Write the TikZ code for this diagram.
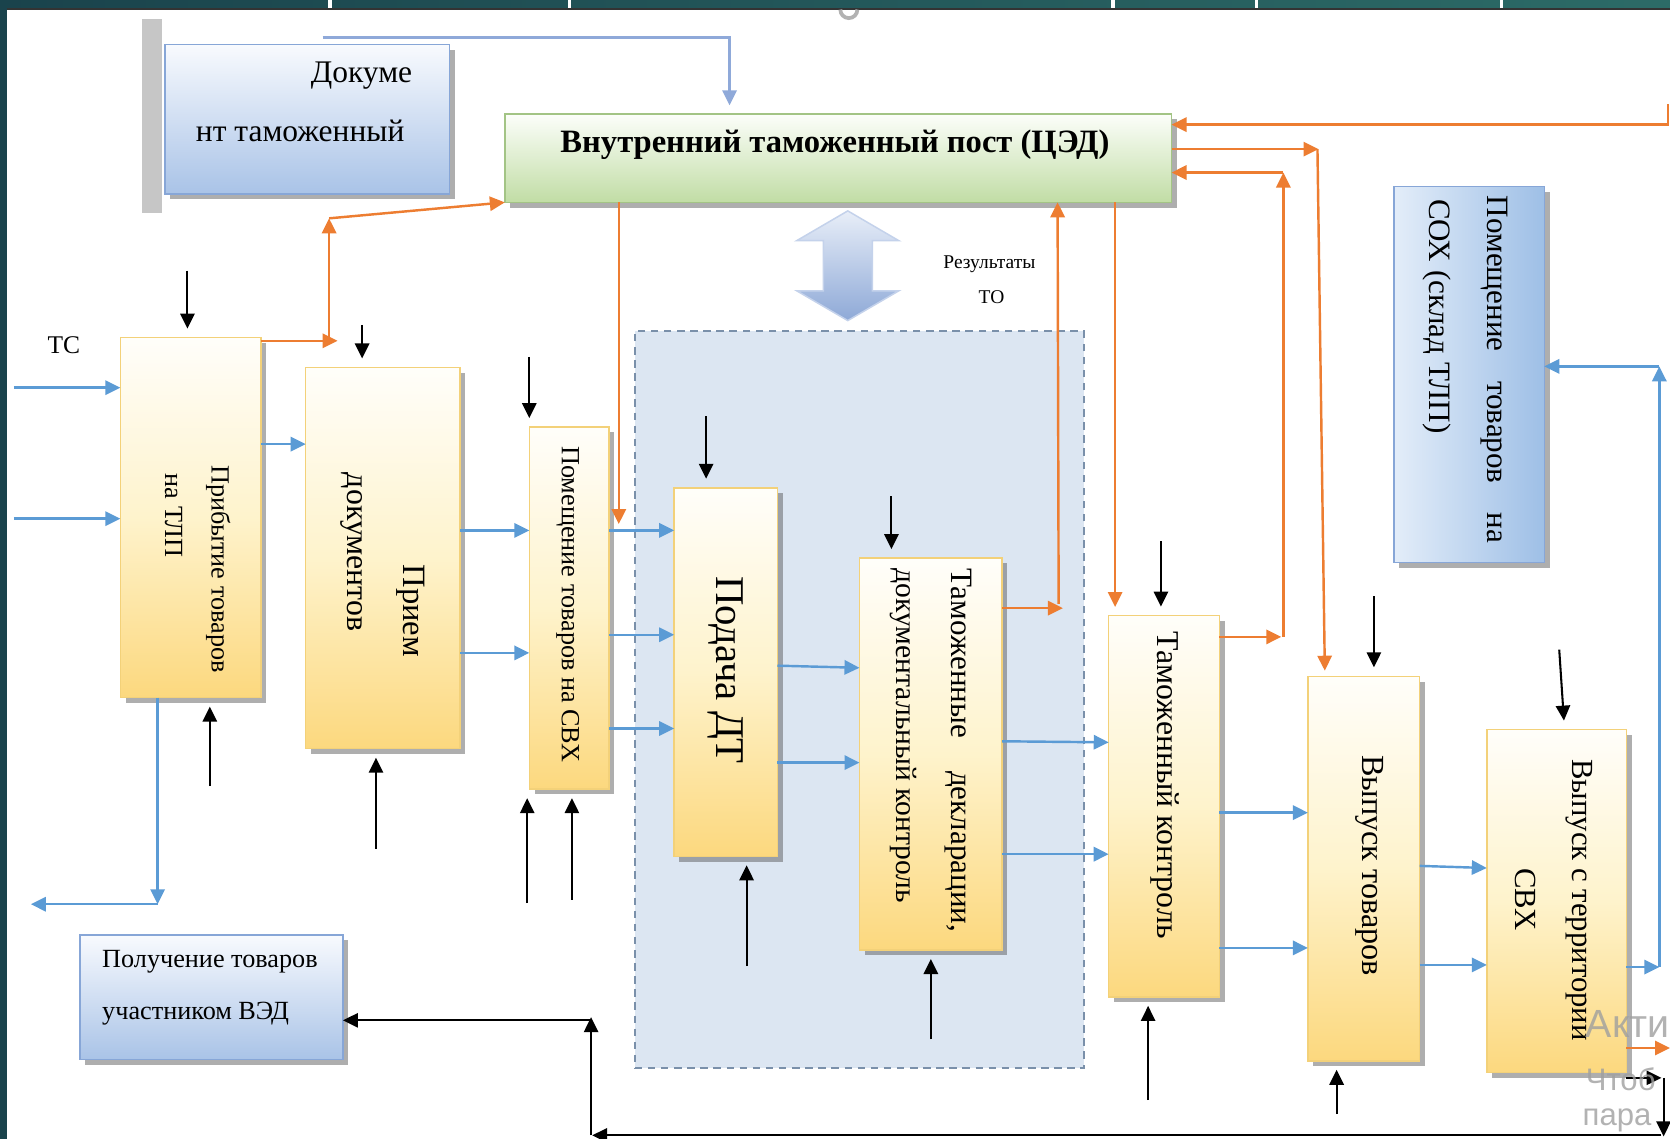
\documentclass[tikz,border=0pt]{standalone}
\usepackage{fontspec}
\setmainfont{Liberation Serif}
\newfontfamily\wmfont{Liberation Sans}
\usetikzlibrary{arrows.meta,fit,shadows}

\definecolor{tealA}{HTML}{1A434C}
\definecolor{tealB}{HTML}{2C6B67}
\definecolor{arrblue}{HTML}{5B9BD5}
\definecolor{arrorange}{HTML}{ED7D31}
\definecolor{lineblue}{HTML}{8FA9D9}
\definecolor{ytop}{HTML}{FFFEFA}
\definecolor{ymid}{HTML}{FEF3CC}
\definecolor{ybot}{HTML}{FCD87E}
\definecolor{yedge}{HTML}{F3D179}
\definecolor{btop}{HTML}{F8FAFE}
\definecolor{bbot}{HTML}{A9C3E7}
\definecolor{bedge}{HTML}{87A6D7}
\definecolor{sleft}{HTML}{E3EDF9}
\definecolor{sright}{HTML}{9EBFE6}
\definecolor{gtop}{HTML}{FCFEFA}
\definecolor{gbot}{HTML}{C1DDA5}
\definecolor{gedge}{HTML}{A3C485}
\definecolor{zonefill}{HTML}{DCE6F2}
\definecolor{zoneedge}{HTML}{7A90AA}
\definecolor{dtop}{HTML}{E8EEF8}
\definecolor{dbot}{HTML}{8EA9D7}

\begin{document}
\begin{tikzpicture}[x=0.01cm, y=-0.01cm,
        every node/.style={inner sep=0pt, outer sep=0pt},
        boxshadow/.style={drop shadow={shadow xshift=1.4pt, shadow yshift=-1.4pt, opacity=0.45, fill=black!70}},
        ybox/.style={boxshadow, draw=yedge, line width=0.4pt, top color=ytop, bottom color=ybot, middle color=ymid},
        bbox/.style={boxshadow, draw=bedge, line width=0.4pt, top color=btop, bottom color=bbot},
        sbox/.style={boxshadow, draw=bedge, line width=0.4pt, left color=sleft, right color=sright},
        gbox/.style={boxshadow, draw=gedge, line width=0.4pt, top color=gtop, bottom color=gbot},
        zone/.style={draw=zoneedge, fill=zonefill, dash pattern=on 2pt off 1.5pt, line width=0.5pt},
        txt/.style={font=\fontsize{8.3}{10}\selectfont},
        vt/.style={txt, rotate=-90, anchor=west},
        headtip/.style={-{Triangle[length=4pt, width=3.8pt]}},
        bluearr/.style={draw=arrblue, line width=0.65pt, headtip},
        greyarr/.style={draw=lineblue, line width=0.65pt, headtip},
        orarr/.style={draw=arrorange, line width=0.65pt, headtip},
        blkarr/.style={draw=black, line width=0.55pt, headtip},
        stubgap/.style={shorten >=2.4pt}]
        \useasboundingbox (0,0) rectangle (1568,1069);
        \clip (0,0) rectangle (1568,1069);
        \fill[white] (0,0) rectangle (1568,1069);
        \shade[left color=tealA, right color=tealB] (0,0) rectangle (1568,8);
        \fill[tealA] (0,0) rectangle (7,1069);
        \draw[black!80, line width=0.6pt] (7,8.5) -- (1568,8.5);
        \foreach \tx in {310,535,1045,1180,1410}
                \draw[white, line width=0.9pt] (\tx,0) -- (\tx,7.5);
        \draw[gray!60, line width=1pt] (789,9) arc[start angle=180, end angle=0, radius=8];
        \fill[gray!45] (133,18) rectangle (152,200);

        \node[bbox, fit={(155,42) (422,182)}] (doc) {};
        \node[gbox, fit={(474,107) (1100,190)}] (ced) {};
        \node[zone, fit={(596,311) (1018,1003)}] (zone) {};
        \node[ybox, fit={(113,317) (245,655)}] (arr) {};
        \node[ybox, fit={(287,345) (432,703)}] (prm) {};
        \node[ybox, fit={(497,401) (572,741)}] (svh) {};
        \node[ybox, fit={(633,458) (730,804)}] (dt) {};
        \node[ybox, fit={(807,524) (941,892)}] (dec) {};
        \node[ybox, fit={(1041,578) (1145,936)}] (ctl) {};
        \node[ybox, fit={(1228,635) (1333,996)}] (rel) {};
        \node[ybox, fit={(1396,685) (1527,1007)}] (exit) {};
        \node[sbox, fit={(1309,175) (1450,528)}] (sox) {};
        \node[bbox, fit={(75,878) (322,995)}] (ved) {};

        \path[top color=dtop, bottom color=dbot, draw=dtop!60!dbot, line width=0.4pt]
                (796,198) -- (844,226) -- (819,226) -- (819,273) -- (844,273) -- (796,301)
                -- (748,273) -- (773,273) -- (773,226) -- (748,226) -- cycle;

        \node[txt, font=\fontsize{8.4}{10}\selectfont, anchor=east] (docA) at (387,71) {Докуме};
        \node[txt, font=\fontsize{8.4}{10}\selectfont, anchor=west] (docB) at (184,123) {нт таможенный};
        \node[font=\bfseries\fontsize{8.7}{11}\selectfont] (cedT) at (784,136) {Внутренний таможенный пост (ЦЭД)};
        \node[font=\fontsize{5.2}{6}\selectfont] (resA) at (929,248) {Результаты};
        \node[font=\fontsize{5.2}{6}\selectfont] (resB) at (931,279) {ТО};
        \node[font=\fontsize{6.8}{8}\selectfont] (ts) at (60,324) {ТС};
        \node[vt, font=\fontsize{7}{8}\selectfont] (arrA) at (205,437) {Прибытие товаров};
        \node[vt, font=\fontsize{7}{8}\selectfont] (arrB) at (163,445) {на ТЛП};
        \node[vt, font=\fontsize{8.7}{10}\selectfont] (prmA) at (386,530) {Прием};
        \node[vt, font=\fontsize{8.5}{10}\selectfont] (prmB) at (330,444) {документов};
        \node[vt, font=\fontsize{7}{8}\selectfont] (svhT) at (533,419) {Помещение товаров на СВХ};
        \node[vt, font=\fontsize{10.9}{12}\selectfont] (dtT) at (681,541) {Подача ДТ};
        \node[vt] (decA) at (900,534) {\makebox[3.41cm][s]{Таможенные декларации,}};
        \node[vt, font=\fontsize{7.9}{9}\selectfont] (decB) at (848,534) {документальный контроль};
        \node[vt, font=\fontsize{8.5}{10}\selectfont] (ctlT) at (1094,593) {Таможенный контроль};
        \node[vt, font=\fontsize{8.6}{10}\selectfont] (relT) at (1286,709) {Выпуск товаров};
        \node[vt, font=\fontsize{8.2}{10}\selectfont] (exitA) at (1483,713) {Выпуск с территории};
        \node[vt, font=\fontsize{8.2}{10}\selectfont] (exitB) at (1432,815) {СВХ};
        \node[vt] (soxA) at (1403,184) {\makebox[3.26cm][s]{Помещение товаров на}};
        \node[vt] (soxB) at (1349,187) {СОХ (склад ТЛП)};
        \node[font=\fontsize{7}{8}\selectfont, anchor=west] (vedA) at (96,903) {Получение товаров};
        \node[font=\fontsize{7}{8}\selectfont, anchor=west] (vedB) at (96,952) {участником ВЭД};

        \draw[greyarr, shorten >=2.3pt] (303,35) coordinate (topl) -- (685,35) -- (ced.north -| 685,0);
        \draw[bluearr] (13,364) coordinate (tsA) -- (arr.west |- tsA);
        \draw[bluearr] (13,487) coordinate (tsB) -- (arr.west |- tsB);
        \draw[bluearr] (arr.east |- 0,417) -- (prm.west |- 0,417);
        \draw[bluearr] (prm.east |- 0,498) -- (svh.west |- 0,498);
        \draw[bluearr] (prm.east |- 0,613) -- (svh.west |- 0,613);
        \draw[bluearr] (svh.east |- 0,498) -- (dt.west |- 0,498);
        \draw[bluearr] (svh.east |- 0,596) -- (dt.west |- 0,596);
        \draw[bluearr] (svh.east |- 0,684) -- (dt.west |- 0,684);
        \draw[bluearr] (dt.east |- 0,625) -- (dec.west |- 0,627);
        \draw[bluearr] (dt.east |- 0,716) -- (dec.west |- 0,716);
        \draw[bluearr] (dec.east |- 0,696) -- (ctl.west |- 0,697);
        \draw[bluearr] (dec.east |- 0,802) -- (ctl.west |- 0,802);
        \draw[bluearr] (ctl.east |- 0,763) -- (rel.west |- 0,763);
        \draw[bluearr] (ctl.east |- 0,890) -- (rel.west |- 0,890);
        \draw[bluearr] (rel.east |- 0,813) -- (exit.west |- 0,815);
        \draw[bluearr] (rel.east |- 0,906) -- (exit.west |- 0,906);
        \coordinate (bend) at (1558,344);
        \draw[bluearr] (exit.east |- 0,908) -- (bend |- 0,908);
        \draw[bluearr] (bend |- 0,908) -- (bend);
        \draw[bluearr] (bend) -- (sox.east |- bend);
        \draw[bluearr] (arr.south -| 148,0) -- (148,849) coordinate (ldn);
        \draw[bluearr] (ldn) -- (29,849) coordinate (lout);

        \draw[orarr] (arr.east |- 0,320) -- (317,320) coordinate (oA);
        \draw[orarr] (309,320) -- (309,205) coordinate (oB);
        \draw[orarr] (oB) -- (ced.south west);
        \draw[orarr] (ced.south -| 581,0) -- (581,492) coordinate (oC);
        \draw[orarr] (dec.east |- 0,571) -- (998,571) coordinate (oD);
        \draw[orarr] (994,567) -- (ced.south -| 993,0);
        \draw[orarr, shorten >=2.3pt] (ced.south -| 1047,0) -- (ctl.north -| 1047,0);
        \draw[orarr] (1566,98) coordinate (oE) -- (1566,117) -- (ced.east |- 0,117);
        \draw[orarr] (ced.east |- 0,140) -- (1238,140) coordinate (oF);
        \draw[orarr, shorten >=1.5pt] (1237,140) -- (rel.north -| 1244,0);
        \draw[orarr] (ctl.east |- 0,598) -- (1203,598) coordinate (oG);
        \draw[orarr] (1205,598) -- (1205,162) coordinate (oH);
        \draw[orarr] (oH) -- (ced.east |- oH);
        \draw[orarr] (exit.east |- 0,984) -- (1568,984) coordinate (oI);

        \foreach \n/\bx/\by in {arr/176/254, prm/340/305, svh/497/335, dt/663/391, dec/837/466, ctl/1090/508, rel/1290/560}
                \draw[blkarr, stubgap] (\bx,\by) coordinate (d-\n) -- (\n.north -| d-\n);
        \draw[blkarr, stubgap] (1464,610) coordinate (d-exit) -- (exit.north -| 1469,0);
        \foreach \n/\bx/\by in {arr/197/738, prm/353/797, svh/495/848, dt/701/907, dec/874/976, ctl/1078/1033, rel/1255/1046}
                \draw[blkarr, stubgap] (\bx,\by) coordinate (u-\n) -- (\n.south -| u-\n);
        \draw[blkarr, stubgap] (537,845) coordinate (u-svhB) -- (svh.south -| u-svhB);
        \draw[blkarr] (exit.east |- 0,1012) -- (1560,1012) coordinate (kA);
        \draw[blkarr] (1562,1012) -- (1562,1067) coordinate (kB);
        \draw[blkarr] (1560,1066) -- (556,1066) coordinate (kC);
        \draw[blkarr] (555,1066) -- (555,955) coordinate (kD);
        \draw[blkarr] (555,958) -- (ved.east |- 0,958);

        \node[font=\wmfont\fontsize{10.5}{11}\selectfont, text=gray!75, anchor=west, opacity=0.8] (wmA) at (1489,961) {Акти};
        \node[font=\wmfont\fontsize{8.3}{9}\selectfont, text=gray!75, anchor=west, opacity=0.8] (wmB) at (1489,1013) {Чтоб};
        \node[font=\wmfont\fontsize{8.3}{9}\selectfont, text=gray!75, anchor=west, opacity=0.8] (wmC) at (1486,1052) {пара};
\end{tikzpicture}
\end{document}
